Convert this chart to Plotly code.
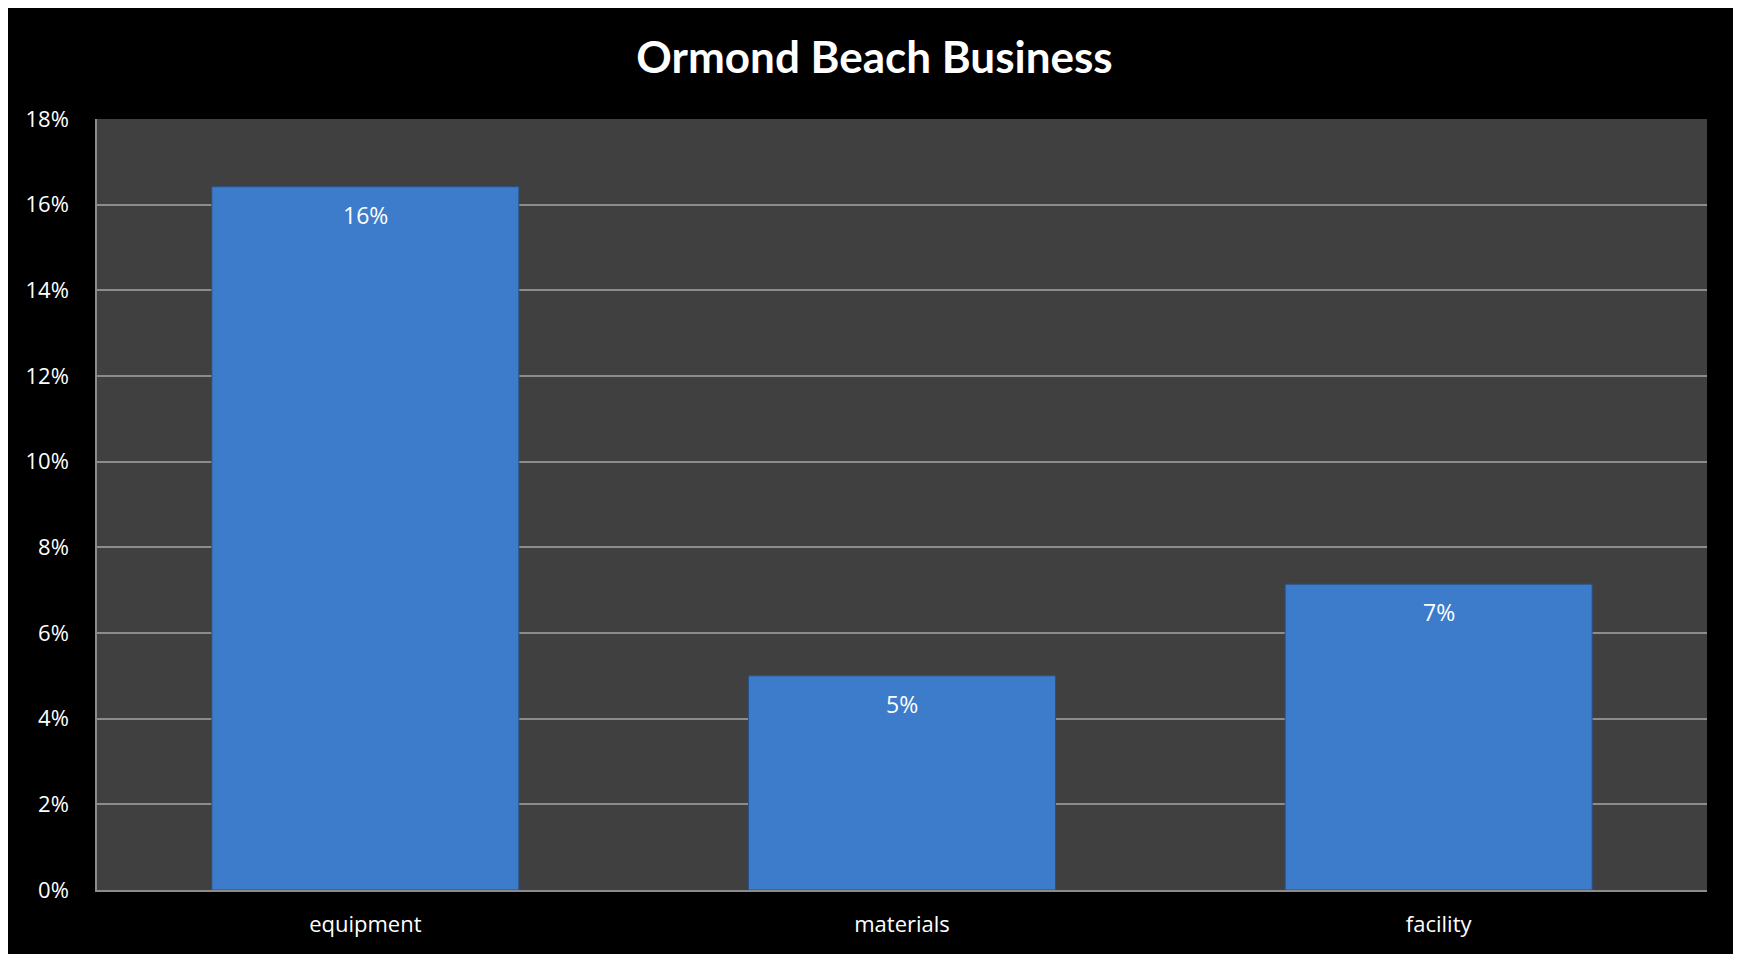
import plotly.graph_objects as go

categories = ["equipment", "materials", "facility"]
values = [0.1642, 0.0500, 0.0714]
labels = ["16%", "5%", "7%"]
tick_vals = [0, 0.02, 0.04, 0.06, 0.08, 0.10, 0.12, 0.14, 0.16, 0.18]
tick_text = ["0%", "2%", "4%", "6%", "8%", "10%", "12%", "14%", "16%", "18%"]
title_text = "Ormond Beach Business"

# page offset from browser default body margin
OX, OY = 8, 8
W, H = 1729, 946
L, R, T, B = 97 - OX, 1707 - OX, 119 - OY, 890 - OY

fig = go.Figure()
fig.add_trace(go.Bar(
    x=categories, y=values,
    marker=dict(color="#3d7bcb", line=dict(color="#2b5288", width=1)),
    hoverinfo="x+y",
))

for c, v, t in zip(categories, values, labels):
    fig.add_annotation(x=c, y=v, text=t, showarrow=False,
                       yanchor="middle", yshift=-28,
                       font=dict(family="Open Sans", size=23, color="white"))

fig.update_layout(
    width=W, height=H,
    margin=dict(l=L, r=W - R, t=T, b=H - B, pad=0),
    paper_bgcolor="black",
    plot_bgcolor="#404040",
    bargap=0.428,
    showlegend=False,
    title=dict(text=title_text, x=(843 - OX) / W, xanchor="center", xref="paper",
               y=1 - (57.5 - OY) / H, yanchor="middle",
               font=dict(family="Lato", size=44, color="white", weight="bold")),
    font=dict(family="Open Sans", color="white", size=22),
)
fig.update_yaxes(
    range=[0, 0.18], tickvals=tick_vals, ticktext=tick_text,
    showgrid=True, gridcolor="#8c8c8c", gridwidth=1.5,
    showline=True, linecolor="#8c8c8c", linewidth=1.5,
    zeroline=False, ticks="", ticklabelstandoff=22,
    tickfont=dict(family="Open Sans", size=22, color="white"),
)
fig.update_xaxes(
    showgrid=False, showline=True, linecolor="#8c8c8c", linewidth=1.5,
    ticks="", ticklabelstandoff=14,
    tickfont=dict(family="Open Sans", size=22, color="white"),
)

fig.write_html("out.html")
